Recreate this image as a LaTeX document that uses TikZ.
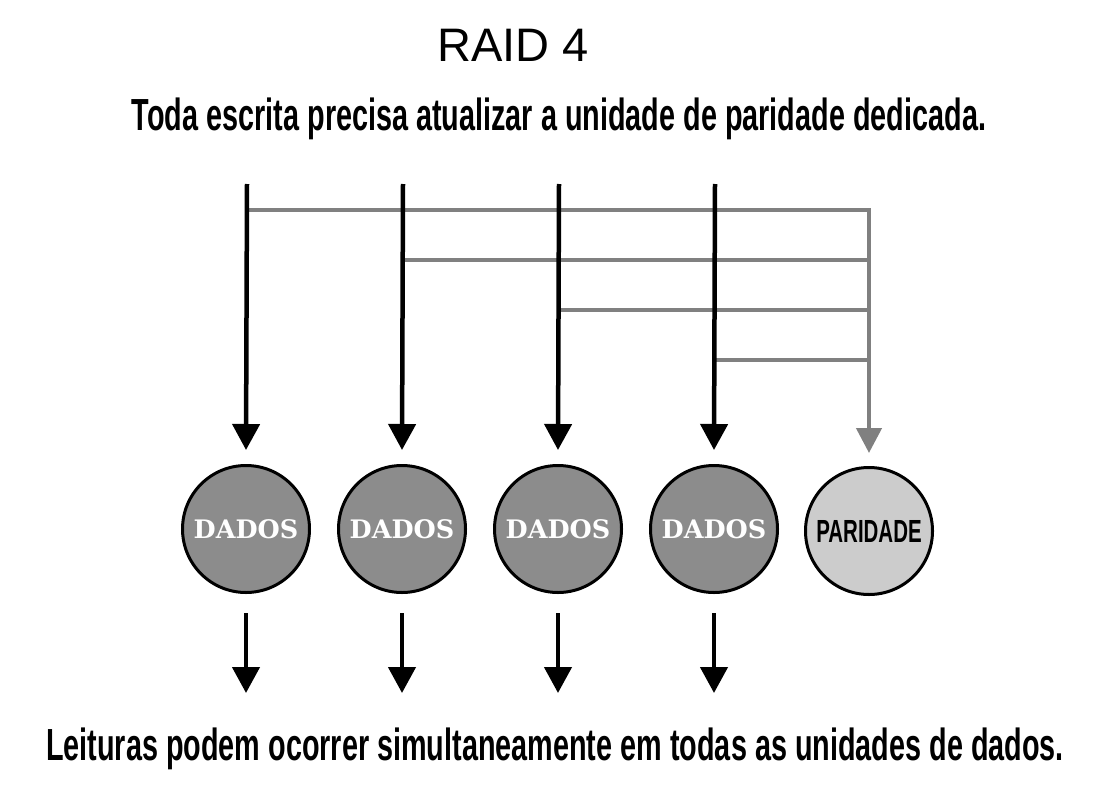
\documentclass[tikz,border=0pt]{standalone}
\usepackage{fontspec}
\usepackage{xcolor}
\usetikzlibrary{arrows.meta}
\setmainfont{Liberation Sans}
\newfontfamily\condfont{Liberation Sans}[FakeStretch=0.64]
\newfontfamily\slabfont{DejaVu Serif}
\definecolor{diskgray}{gray}{0.55}
\definecolor{paritygray}{gray}{0.8}
\definecolor{linegray}{gray}{0.5}
\tikzset{
  disk/.style={circle, draw=black, line width=3pt, minimum size=127pt, inner sep=0pt},
  blackarrow/.style={line width=4.5pt, -{Triangle[width=27pt,length=26pt]}},
  grayline/.style={draw=linegray, line width=4.5pt},
  grayarrow/.style={grayline, -{Triangle[width=25pt,length=25pt]}}
}

\begin{document}
\begin{tikzpicture}[x=1pt,y=-1pt]
    \useasboundingbox (0,0) rectangle (1100,800);
    % Titles
    \node (title) at (513,45) {\fontsize{47}{50}\selectfont RAID 4};
    \node[anchor=base] (write) at (559,130) {\fontsize{45}{48}\selectfont\condfont\bfseries Toda escrita precisa atualizar a unidade de paridade dedicada.};
    \node[anchor=base] (read) at (555,760) {\fontsize{45}{48}\selectfont\condfont\bfseries Leituras podem ocorrer simultaneamente em todas as unidades de dados.};

    % Disks
    \foreach \i in {1,...,4}
      \node[disk, fill=diskgray, text=white] (d\i) at ({90+156*\i},529) {\fontsize{25.5}{28}\selectfont\slabfont\bfseries DADOS};
    \node[disk, fill=paritygray] (par) at (869,531) {\fontsize{32}{34}\selectfont\condfont\bfseries PARIDADE};

    % Parity updates
    \foreach \i in {1,...,4} {
      \coordinate (h\i) at ({91+156*\i},{160+50*\i});
      \draw[grayline] (h\i) -- (h\i -| par);
    }
    \draw[grayarrow, line join=miter] ([xshift=-2.25pt]h1 -| par) -| ([yshift=13pt]par.north);

    % Writes and reads
    \foreach \i in {1,...,4} {
      \coordinate (t\i) at ({91+156*\i},184);
      \draw[blackarrow] (t\i) -- ([yshift=14pt]d\i.north);
      \draw[blackarrow] ([yshift=-19pt]d\i.south) -- ([yshift=-99pt]d\i.south);
    }
\end{tikzpicture}
\end{document}
